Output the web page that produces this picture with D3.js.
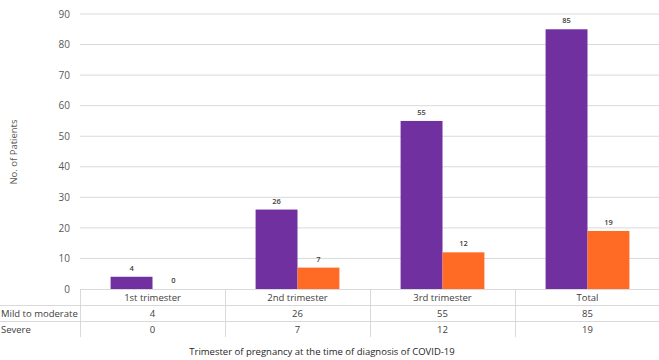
<!DOCTYPE html>
<html><head><meta charset="utf-8">
<script src="https://cdn.jsdelivr.net/npm/d3@7"></script>
<style>body{margin:0;background:#fff}svg{display:block}text{font-family:"Open Sans","Noto Sans",sans-serif}</style>
</head><body><svg id="c" width="659" height="360"></svg>
<script>
const categories = ["1st trimester","2nd trimester","3rd trimester","Total"];
const seriesNames = ["Mild to moderate","Severe"];
const mild = [4,26,55,85];
const severe = [0,7,12,19];
const yTicks = [0,10,20,30,40,50,60,70,80,90];
const colors = ["#7030A0","#FF6A24"];

const svg = d3.select("#c");
const L=80, R=660, T=14, B=289;
const x = d3.scaleBand().domain(categories).range([L,R]).paddingInner(0).paddingOuter(0);
const y = d3.scaleLinear().domain([0,90]).range([B,T]);
const inner = d3.scaleBand().domain([0,1]).range([0,x.bandwidth()]).paddingOuter(0.73).paddingInner(0);

// gridlines
svg.append("g").selectAll("line").data(yTicks.filter(d=>d>0)).join("line")
  .attr("x1",L).attr("x2",659).attr("y1",d=>y(d)).attr("y2",d=>y(d))
  .attr("stroke","#d9d9d9").attr("stroke-width",1);
// y axis labels
const ya = d3.axisLeft(y).tickValues(yTicks).tickSize(0).tickPadding(10);
const yg = svg.append("g").attr("transform",`translate(${L},0)`).call(ya);
yg.select(".domain").remove();
yg.selectAll("text").attr("font-size",10).attr("fill","#595959").style("font-family","'Open Sans'");

svg.append("text").attr("transform","translate(17,152) rotate(-90)").attr("text-anchor","middle")
  .attr("font-size",9.5).attr("fill","#595959").text("No. of Patients");

const data = [mild, severe];
data.forEach((vals,si)=>{
  const g = svg.append("g");
  g.selectAll("rect").data(vals).join("rect")
    .attr("x",(d,i)=>x(categories[i])+inner(si))
    .attr("width",inner.bandwidth())
    .attr("y",d=>y(d)).attr("height",d=>B-y(d))
    .attr("fill",colors[si]);
  g.selectAll("text").data(vals).join("text")
    .attr("x",(d,i)=>x(categories[i])+inner(si)+inner.bandwidth()/2)
    .attr("y",d=>y(d)-6).attr("text-anchor","middle")
    .attr("font-size",7.5).attr("font-weight",600).attr("fill","#404040").text(d=>d);
});

// data table
const tableLine = "#d9d9d9";
const tb = svg.append("g");
tb.append("line").attr("x1",L).attr("x2",659).attr("y1",289.5).attr("y2",289.5).attr("stroke",tableLine);
[305,321].forEach(yy=>tb.append("line").attr("x1",0).attr("x2",659).attr("y1",yy+0.5).attr("y2",yy+0.5).attr("stroke",tableLine));
const colEdges = categories.map(c=>x(c));
tb.selectAll("line.v").data(colEdges).join("line").attr("class","v")
  .attr("x1",d=>Math.round(d)+0.5).attr("x2",d=>Math.round(d)+0.5).attr("y1",289).attr("y2",337).attr("stroke",tableLine);
tb.selectAll("text.h").data(categories).join("text").attr("class","h")
  .attr("x",d=>x(d)+x.bandwidth()/2).attr("y",300.5).attr("text-anchor","middle")
  .attr("font-size",9.5).attr("fill","#404040").text(d=>d);
data.forEach((vals,si)=>{
  const yy = [316.5,332.5][si];
  tb.append("text").attr("x",1).attr("y",yy).attr("font-size",9.5).attr("fill","#404040").text(seriesNames[si]);
  tb.selectAll("text.v"+si).data(vals).join("text").attr("class","v"+si)
    .attr("x",(d,i)=>x(categories[i])+x.bandwidth()/2).attr("y",yy).attr("text-anchor","middle")
    .attr("font-size",9.5).attr("fill","#404040").text(d=>d);
});

svg.append("text").attr("x",322).attr("y",355).attr("text-anchor","middle")
  .attr("font-size",9.5).attr("fill","#262626").text("Trimester of pregnancy at the time of diagnosis of COVID-19");
</script></body></html>
